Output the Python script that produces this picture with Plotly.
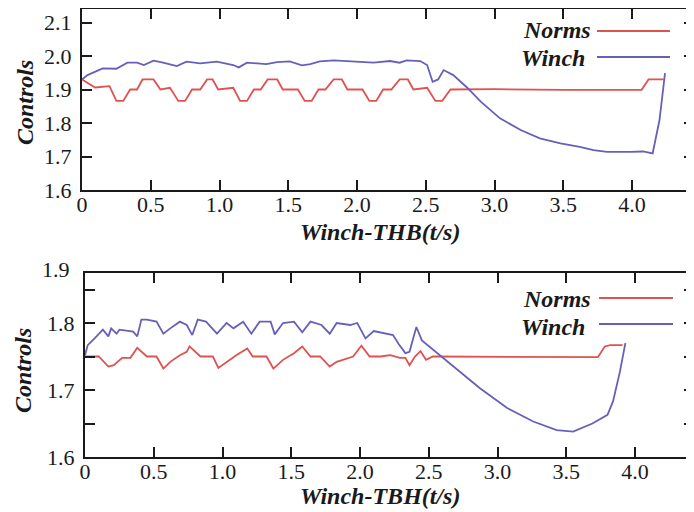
import plotly.graph_objects as go

# ---------------- data ----------------
top_norms_t = [0, 0.095, 0.2, 0.25, 0.3, 0.35, 0.4, 0.44, 0.52, 0.57, 0.64, 0.70, 0.75, 0.8, 0.86, 0.91, 0.95, 0.99,
               1.1, 1.15, 1.2, 1.25, 1.3, 1.35, 1.42, 1.46, 1.57, 1.62, 1.67, 1.72, 1.77, 1.83, 1.89, 1.93, 2.04,
               2.09, 2.14, 2.19, 2.25, 2.31, 2.37, 2.41, 2.51, 2.57, 2.62, 2.68, 3.0, 3.5, 4.07, 4.12, 4.23]
top_norms_v = [1.93, 1.906, 1.91, 1.866, 1.866, 1.9, 1.9, 1.93, 1.93, 1.9, 1.905, 1.866, 1.866, 1.9, 1.9, 1.93,
               1.93, 1.9, 1.905, 1.866, 1.866, 1.9, 1.9, 1.93, 1.93, 1.9, 1.9, 1.866, 1.866, 1.9, 1.9, 1.93, 1.93,
               1.9, 1.9, 1.866, 1.866, 1.9, 1.9, 1.93, 1.93, 1.9, 1.905, 1.866, 1.866, 1.9, 1.901, 1.899, 1.899,
               1.93, 1.93]
top_winch_t = [0, 0.04, 0.15, 0.25, 0.33, 0.4, 0.45, 0.52, 0.59, 0.69, 0.76, 0.86, 0.98, 1.1, 1.14, 1.2, 1.34,
               1.42, 1.51, 1.6, 1.66, 1.73, 1.83, 1.95, 2.12, 2.24, 2.31, 2.36, 2.46, 2.51, 2.55, 2.59, 2.63, 2.70,
               2.80, 2.9, 3.04, 3.19, 3.33, 3.48, 3.62, 3.72, 3.82, 3.99, 4.08, 4.15, 4.2, 4.24]
top_winch_v = [1.93, 1.943, 1.963, 1.962, 1.98, 1.98, 1.973, 1.986, 1.98, 1.97, 1.983, 1.978, 1.983, 1.973,
               1.966, 1.98, 1.976, 1.982, 1.984, 1.972, 1.976, 1.984, 1.987, 1.985, 1.98, 1.985, 1.98, 1.987,
               1.985, 1.973, 1.923, 1.93, 1.958, 1.943, 1.906, 1.864, 1.814, 1.779, 1.754, 1.739, 1.729, 1.719,
               1.714, 1.714, 1.715, 1.709, 1.809, 1.949]

bot_norms_t = [0, 0.1, 0.17, 0.21, 0.27, 0.33, 0.38, 0.45, 0.52, 0.57, 0.62, 0.69, 0.74, 0.76, 0.84, 0.93, 0.97,
               1.03, 1.1, 1.18, 1.22, 1.32, 1.37, 1.44, 1.52, 1.58, 1.64, 1.71, 1.78, 1.83, 1.95, 2.01, 2.07, 2.15,
               2.22, 2.29, 2.33, 2.36, 2.40, 2.44, 2.48, 2.53, 3.0, 3.73, 3.78, 3.82, 3.91]
bot_norms_v = [1.75, 1.75, 1.735, 1.737, 1.748, 1.748, 1.763, 1.75, 1.75, 1.732, 1.742, 1.752, 1.757, 1.765,
               1.75, 1.75, 1.733, 1.742, 1.752, 1.762, 1.75, 1.75, 1.732, 1.745, 1.755, 1.765, 1.75, 1.75, 1.735,
               1.742, 1.75, 1.766, 1.75, 1.75, 1.752, 1.748, 1.748, 1.737, 1.75, 1.758, 1.745, 1.75, 1.75, 1.749,
               1.765, 1.767, 1.767]
bot_winch_t = [0, 0.02, 0.07, 0.13, 0.17, 0.19, 0.23, 0.25, 0.35, 0.38, 0.41, 0.45, 0.52, 0.57, 0.62, 0.69, 0.74,
               0.78, 0.82, 0.88, 0.96, 1.03, 1.08, 1.15, 1.21, 1.27, 1.35, 1.38, 1.44, 1.52, 1.58, 1.64, 1.72, 1.78,
               1.83, 1.93, 1.98, 2.04, 2.1, 2.17, 2.24, 2.28, 2.33, 2.36, 2.41, 2.45, 2.51, 2.58, 2.7, 2.87, 3.07,
               3.26, 3.43, 3.55, 3.69, 3.8, 3.84, 3.89, 3.93]
bot_winch_v = [1.752, 1.767, 1.777, 1.79, 1.78, 1.792, 1.784, 1.79, 1.787, 1.78, 1.805, 1.805, 1.802, 1.784,
               1.792, 1.802, 1.797, 1.782, 1.805, 1.802, 1.784, 1.8, 1.792, 1.802, 1.784, 1.802, 1.802, 1.783, 1.8,
               1.802, 1.786, 1.802, 1.797, 1.784, 1.8, 1.797, 1.8, 1.777, 1.788, 1.785, 1.782, 1.769, 1.755, 1.757,
               1.794, 1.774, 1.764, 1.752, 1.732, 1.703, 1.673, 1.653, 1.64, 1.638, 1.65, 1.663, 1.683, 1.727, 1.77]

series_names = ["Norms", "Winch"]
x_tick_vals = [0, 0.5, 1.0, 1.5, 2.0, 2.5, 3.0, 3.5, 4.0]
x_tick_text = ["0", "0.5", "1.0", "1.5", "2.0", "2.5", "3.0", "3.5", "4.0"]
top_y_ticks = [1.6, 1.7, 1.8, 1.9, 2.0, 2.1]
top_y_text = ["1.6", "1.7", "1.8", "1.9", "2.0", "2.1"]
bot_y_ticks = [1.6, 1.65, 1.7, 1.75, 1.8, 1.85]
bot_y_text = ["1.6", "", "1.7", "", "1.8", ""]
x_titles = ["Winch-THB(t/s)", "Winch-TBH(t/s)"]
y_title = "Controls"

# ---------------- style ----------------
OFF = 8                       # page body margin
W, H = 694 - OFF, 512 - OFF   # figure size so it ends at the window edge
RED = "#e0524f"
BLUE = "#6760b8"
SERIF = "Liberation Serif"
TICKFONT = dict(family=SERIF, size=22, color="#1a1a1a")
TITLEFONT = dict(family=SERIF, size=24, color="#1a1a1a")

def px_x(p):
    return (p - OFF) / W

def px_y(p):
    return 1 - (p - OFF) / H

fig = go.Figure()
fig.add_trace(go.Scatter(x=top_norms_t, y=top_norms_v, mode="lines", name=series_names[0],
                         line=dict(color=RED, width=1.8), xaxis="x", yaxis="y", showlegend=False))
fig.add_trace(go.Scatter(x=top_winch_t, y=top_winch_v, mode="lines", name=series_names[1],
                         line=dict(color=BLUE, width=1.8), xaxis="x", yaxis="y", showlegend=False))
fig.add_trace(go.Scatter(x=bot_norms_t, y=bot_norms_v, mode="lines", name=series_names[0],
                         line=dict(color=RED, width=1.8), xaxis="x2", yaxis="y2", showlegend=False))
fig.add_trace(go.Scatter(x=bot_winch_t, y=bot_winch_v, mode="lines", name=series_names[1],
                         line=dict(color=BLUE, width=1.8), xaxis="x2", yaxis="y2", showlegend=False))

axis_common = dict(showline=True, linecolor="#1a1a1a", linewidth=2, mirror="allticks", ticks="inside",
                   ticklen=10, tickwidth=2, tickcolor="#1a1a1a", showgrid=False, zeroline=False,
                   tickfont=TICKFONT, automargin=False)

TOP_Y0, TOP_Y1 = 190, 9
fig.update_layout(
    width=W, height=H,
    margin=dict(l=0, r=0, t=0, b=0, autoexpand=False),
    paper_bgcolor="white", plot_bgcolor="white",
    font=dict(family=SERIF),
    xaxis=dict(domain=[px_x(82), 1], range=[0, (694 - 82) / 137.5], anchor="y",
               tickvals=x_tick_vals, ticktext=x_tick_text, ticklabelstandoff=-6, **axis_common),
    yaxis=dict(domain=[px_y(TOP_Y0), px_y(TOP_Y1)], range=[1.6, 1.6 + (TOP_Y0 - TOP_Y1) / 335], anchor="x",
               tickvals=top_y_ticks, ticktext=top_y_text, ticklabelstandoff=4, **axis_common),
    xaxis2=dict(domain=[px_x(85), 1], range=[0, (694 - 85) / 137.5], anchor="y2",
                tickvals=x_tick_vals, ticktext=x_tick_text, ticklabelstandoff=-6, **axis_common),
    yaxis2=dict(domain=[px_y(457), px_y(273)], range=[1.6, 1.6 + 184 / 670], anchor="x2",
                tickvals=bot_y_ticks, ticktext=bot_y_text, ticklabelstandoff=4, **axis_common),
)

annotations = []
# axis titles
for xt, yc in zip(x_titles, [232, 496]):
    annotations.append(dict(text="<b><i>%s</i></b>" % xt, x=px_x(380), y=px_y(yc), xref="paper", yref="paper",
                            showarrow=False, font=TITLEFONT, xanchor="center", yanchor="middle"))
for xc, yc in [(25, 103), (23, 371)]:
    annotations.append(dict(text="<b><i>%s</i></b>" % y_title, x=px_x(xc), y=px_y(yc), xref="paper",
                            yref="paper", showarrow=False, font=TITLEFONT, textangle=-90,
                            xanchor="center", yanchor="middle"))
# stray top label of lower panel
annotations.append(dict(text="1.9", x=px_x(72), y=px_y(269), xref="paper", yref="paper", showarrow=False,
                        font=TICKFONT, xanchor="right", yanchor="middle"))

# manual legends (text to the left of the line sample)
shapes = []
legend_rows = [
    (series_names[0], RED, 593, 30, 597, 670, 31),
    (series_names[1], BLUE, 587, 58, 597, 670, 57),
    (series_names[0], RED, 593, 299, 599, 673, 298),
    (series_names[1], BLUE, 587, 327, 599, 673, 324),
]
for name, col, tx, ty, lx0, lx1, ly in legend_rows:
    annotations.append(dict(text="<b><i>%s</i></b>" % name, x=px_x(tx), y=px_y(ty), xref="paper",
                            yref="paper", showarrow=False, font=TITLEFONT, xanchor="right", yanchor="middle"))
    shapes.append(dict(type="line", xref="paper", yref="paper", x0=px_x(lx0), x1=px_x(lx1),
                       y0=px_y(ly), y1=px_y(ly), line=dict(color=col, width=1.8)))

fig.update_layout(annotations=annotations, shapes=shapes)

fig.write_html("out.html")
